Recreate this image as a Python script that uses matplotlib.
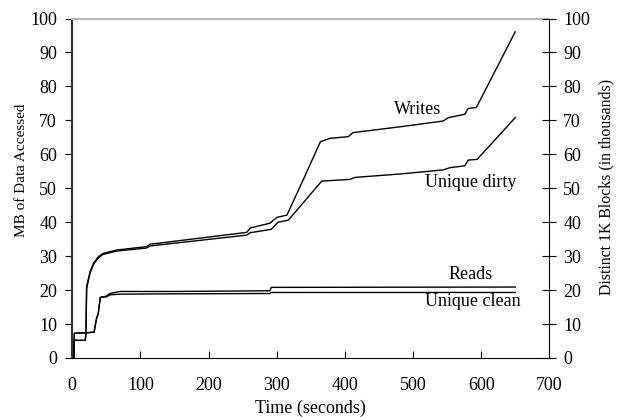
import matplotlib.pyplot as plt
import numpy as np

plt.rcParams['font.family'] = ['Liberation Serif', 'DejaVu Serif']

# Time (seconds) and MB values
t_writes = [0, 2, 3, 19, 20, 21, 26, 31, 38, 45, 65, 109, 114, 256, 261, 290, 300, 315,
            340, 364, 378, 405, 412, 481, 544, 552, 576, 581, 593, 650]
v_writes = [0, 0, 5.2, 5.2, 7.3, 21, 25.4, 27.9, 29.8, 30.8, 31.8, 32.8, 33.5, 37.0, 38.3,
            39.7, 41.4, 42.1, 53, 63.7, 64.7, 65.2, 66.4, 68.1, 69.8, 70.8, 71.8, 73.5, 73.8, 96.1]

t_dirty = [0, 2, 3, 19, 20, 21, 26, 31, 38, 45, 65, 109, 114, 256, 261, 292, 302, 317,
           340, 366, 407, 415, 481, 544, 555, 576, 581, 594, 650]
v_dirty = [0, 0, 5.2, 5.2, 7.3, 20.5, 25, 27.5, 29.5, 30.5, 31.5, 32.4, 33.0, 36.2, 36.9,
           37.9, 40.0, 40.6, 46, 52.1, 52.6, 53.2, 54.2, 55.4, 56.1, 56.6, 58.3, 58.5, 70.8]

t_reads = [0, 2, 3, 19, 32, 34, 36, 38, 41, 43, 50, 55, 70, 150, 290, 292, 650]
v_reads = [0, 0, 7.3, 7.4, 7.6, 10, 12, 13, 17.8, 18.0, 18.2, 19.0, 19.6, 19.6, 19.8, 20.8, 20.9]

t_clean = [0, 2, 3, 19, 32, 34, 36, 38, 41, 43, 50, 55, 70, 150, 290, 292, 650]
v_clean = [0, 0, 7.3, 7.4, 7.6, 10, 12, 13, 17.8, 17.9, 18.0, 18.6, 18.8, 18.9, 19.0, 19.3, 19.3]

fig = plt.figure(figsize=(6.17, 4.17), dpi=100)
ax = fig.add_axes([0.1172, 0.1415, 0.7731, 0.8141])

for t, v in [(t_writes, v_writes), (t_dirty, v_dirty), (t_reads, v_reads), (t_clean, v_clean)]:
    ax.plot(t, v, color='black', lw=1.0)

ax.set_xlim(0, 700)
ax.set_ylim(0, 100)
ax.set_xticks(np.arange(0, 701, 100))
ax.set_yticks(np.arange(0, 101, 10))

ax.text(507, 73.3, 'Writes', ha='center', va='center', fontsize=13)
ax.text(584, 51.6, 'Unique dirty', ha='center', va='center', fontsize=13)
ax.text(584, 24.7, 'Reads', ha='center', va='center', fontsize=13)
ax.text(587, 16.6, 'Unique clean', ha='center', va='center', fontsize=13)

ax.spines['top'].set_color('#b4b4b4')
ax.spines['top'].set_linewidth(1.5)
ax.spines['right'].set_visible(False)
ax.spines['left'].set_color('#333333')
ax.spines['left'].set_linewidth(1.5)
ax.tick_params(axis='x', direction='in', length=5, pad=14, labelsize=13)
ax.tick_params(axis='y', direction='out', length=5, pad=6, labelsize=13)

ax2 = ax.twinx()
ax2.set_ylim(0, 100)
ax2.set_yticks(np.arange(0, 101, 10))
ax2.tick_params(axis='y', direction='inout', length=10, pad=5, labelsize=13)
for s in ['top', 'left', 'bottom']:
    ax2.spines[s].set_visible(False)

ax.set_ylabel('MB of Data Accessed', fontsize=11)
ax.yaxis.set_label_coords(-0.093, 0.554)
ax.set_xlabel('Time (seconds)', fontsize=13)
ax.xaxis.set_label_coords(0.5, -0.122)
ax2.set_ylabel('Distinct 1K Blocks (in thousands)', fontsize=11.4)
ax2.yaxis.set_label_coords(1.102, 0.504)

fig.savefig('out.png', dpi=100)
